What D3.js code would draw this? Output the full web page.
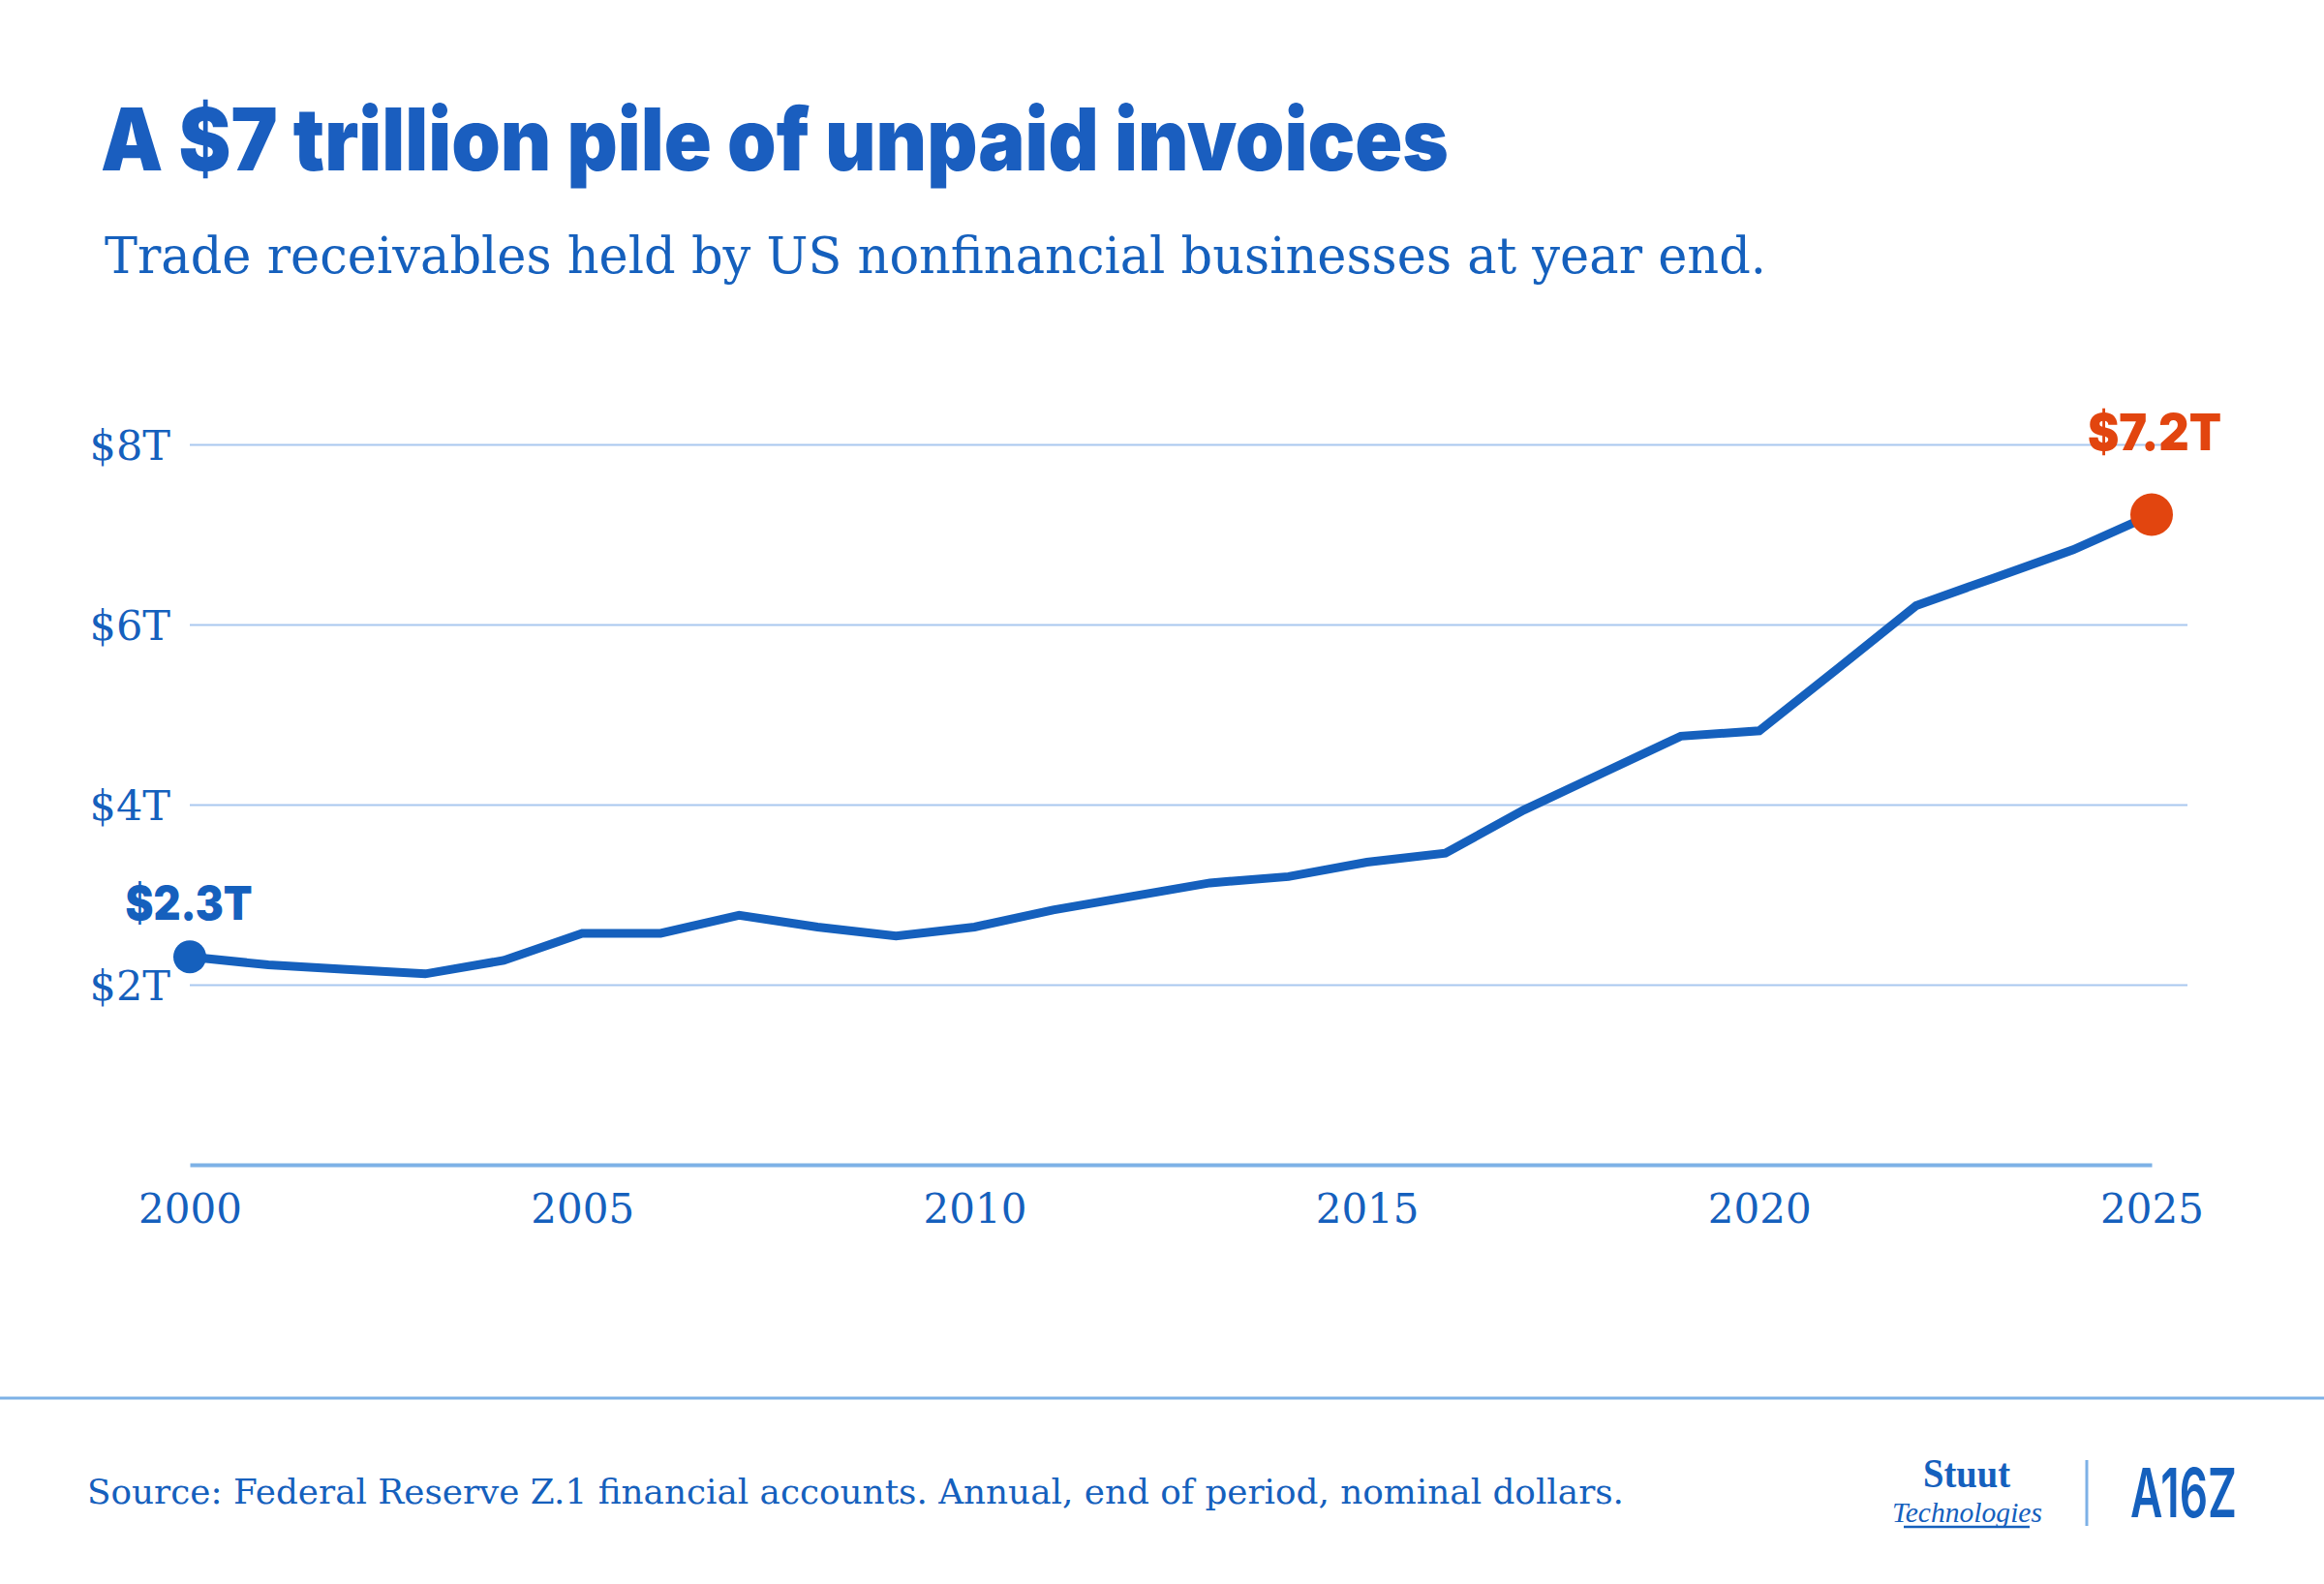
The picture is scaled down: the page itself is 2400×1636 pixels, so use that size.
<!DOCTYPE html>
<html lang="en">
<head>
    <meta charset="UTF-8">
    <title>A $7 trillion pile of unpaid invoices</title>
    <script src="https://cdnjs.cloudflare.com/ajax/libs/d3/7.8.5/d3.min.js"></script>
    <style>
        body { margin: 0; background: #ffffff; }
        svg { display: block; }
        .serif { font-family: 'DejaVu Serif', serif; }
        .sans { font-family: 'Inter', 'Liberation Sans', sans-serif; }
    </style>
</head>
<body>
    <div id="chart"></div>

    <script>
        // Trade receivables, US nonfinancial businesses, $ trillions
        const years = [2000, 2001, 2002, 2003, 2004, 2005, 2006, 2007, 2008, 2009,
                       2010, 2011, 2012, 2013, 2014, 2015, 2016, 2017, 2018, 2019,
                       2020, 2021, 2022, 2023, 2024, 2025];
        const receivables = [2.31, 2.22, 2.17, 2.12, 2.27, 2.57, 2.57, 2.77, 2.64, 2.54,
                             2.64, 2.83, 2.98, 3.13, 3.20, 3.36, 3.46, 3.94, 4.35, 4.76,
                             4.82, 5.51, 6.21, 6.52, 6.83, 7.22];
        const yTicks = [2, 4, 6, 8];
        const xTicks = [2000, 2005, 2010, 2015, 2020, 2025];
        const startLabel = "$2.3T";
        const endLabel = "$7.2T";

        const W = 2400, H = 1636;
        const blue = "#1560bd";
        const orange = "#e2450f";
        const grid = "#a9c8ef";
        const rule = "#7db1e6";

        const svg = d3.select("#chart").append("svg")
            .attr("width", W)
            .attr("height", H);

        svg.append("rect").attr("width", W).attr("height", H).attr("fill", "#ffffff");

        function fit(sel, w) {
            sel.attr("textLength", w).attr("lengthAdjust", "spacingAndGlyphs");
            return sel;
        }

        // heading
        fit(svg.append("text")
            .attr("class", "sans")
            .attr("x", 104).attr("y", 176)
            .attr("font-size", 89).attr("font-weight", 900)
            .attr("fill", "#1a5ebf")
            .text("A $7 trillion pile of unpaid invoices"), 1392);

        fit(svg.append("text")
            .attr("class", "serif")
            .attr("x", 108).attr("y", 282)
            .attr("font-size", 53)
            .attr("fill", blue)
            .text("Trade receivables held by US nonfinancial businesses at year end."), 1716);

        // scales
        const x = d3.scaleLinear().domain([2000, 2025]).range([196, 2222]);
        const y = d3.scaleLinear().domain([0, 8]).range([1203, 459]);
        const gridRight = 2259;

        // y gridlines + labels
        const yAxis = svg.append("g")
            .attr("transform", `translate(${x.range()[0]},0)`)
            .call(d3.axisLeft(y)
                .tickValues(yTicks)
                .tickSize(-(gridRight - x.range()[0]))
                .tickPadding(20)
                .tickFormat(d => `$${d}T`));
        yAxis.select(".domain").remove();
        yAxis.selectAll(".tick line").attr("stroke", grid).attr("stroke-width", 2);
        yAxis.selectAll(".tick text")
            .attr("class", "serif")
            .attr("font-size", 43)
            .attr("fill", blue)
            .attr("dy", "0.36em");

        // x axis (baseline + years)
        const xAxis = svg.append("g")
            .attr("transform", `translate(0,${y(0)})`)
            .call(d3.axisBottom(x)
                .tickValues(xTicks)
                .tickSize(0)
                .tickPadding(30)
                .tickFormat(d3.format("d")));
        xAxis.select(".domain").attr("stroke", rule).attr("stroke-width", 4);
        xAxis.selectAll(".tick text")
            .attr("class", "serif")
            .attr("font-size", 42)
            .attr("fill", blue)
            .attr("dy", "0.71em");

        // series line
        const data = years.map((yr, i) => ({ year: yr, value: receivables[i] }));
        const line = d3.line().x(d => x(d.year)).y(d => y(d.value));

        svg.append("path")
            .datum(data)
            .attr("fill", "none")
            .attr("stroke", blue)
            .attr("stroke-width", 9)
            .attr("stroke-linejoin", "miter")
            .attr("d", line);

        const first = data[0], last = data[data.length - 1];

        svg.append("circle")
            .attr("cx", x(first.year)).attr("cy", y(first.value))
            .attr("r", 17).attr("fill", blue);
        svg.append("circle")
            .attr("cx", x(last.year)).attr("cy", y(last.value))
            .attr("r", 22).attr("fill", orange);

        fit(svg.append("text")
            .attr("class", "sans")
            .attr("x", x(first.year) - 1).attr("y", y(first.value) - 38)
            .attr("text-anchor", "middle")
            .attr("font-size", 48).attr("font-weight", 900)
            .attr("fill", blue)
            .text(startLabel), 131);

        fit(svg.append("text")
            .attr("class", "sans")
            .attr("x", x(last.year) + 3).attr("y", y(last.value) - 67)
            .attr("text-anchor", "middle")
            .attr("font-size", 52).attr("font-weight", 900)
            .attr("fill", orange)
            .text(endLabel), 138);

        // footer
        svg.append("line")
            .attr("x1", 0).attr("x2", W)
            .attr("y1", 1444).attr("y2", 1444)
            .attr("stroke", rule).attr("stroke-width", 3);

        fit(svg.append("text")
            .attr("class", "serif")
            .attr("x", 90).attr("y", 1553)
            .attr("font-size", 36)
            .attr("fill", blue)
            .text("Source: Federal Reserve Z.1 financial accounts. Annual, end of period, nominal dollars."), 1587);

        // logos
        const logos = svg.append("g");
        fit(logos.append("text")
            .attr("x", 1986).attr("y", 1536)
            .attr("font-family", "'Liberation Serif', serif")
            .attr("font-weight", 700)
            .attr("font-size", 42)
            .attr("fill", blue)
            .text("Stuut"), 90);
        fit(logos.append("text")
            .attr("x", 1954).attr("y", 1572)
            .attr("font-family", "'Liberation Serif', serif")
            .attr("font-style", "italic")
            .attr("font-size", 30)
            .attr("fill", blue)
            .text("Technologies"), 155);
        logos.append("line")
            .attr("x1", 1966).attr("x2", 2096)
            .attr("y1", 1577).attr("y2", 1577)
            .attr("stroke", blue).attr("stroke-width", 2.5);
        logos.append("line")
            .attr("x1", 2155).attr("x2", 2155)
            .attr("y1", 1508).attr("y2", 1576)
            .attr("stroke", rule).attr("stroke-width", 3);
        fit(logos.append("text")
            .attr("class", "sans")
            .attr("x", 2200).attr("y", 1567)
            .attr("font-size", 70).attr("font-weight", 600)
            .attr("fill", blue)
            .text("A16Z"), 110);
    </script>
</body>
</html>
